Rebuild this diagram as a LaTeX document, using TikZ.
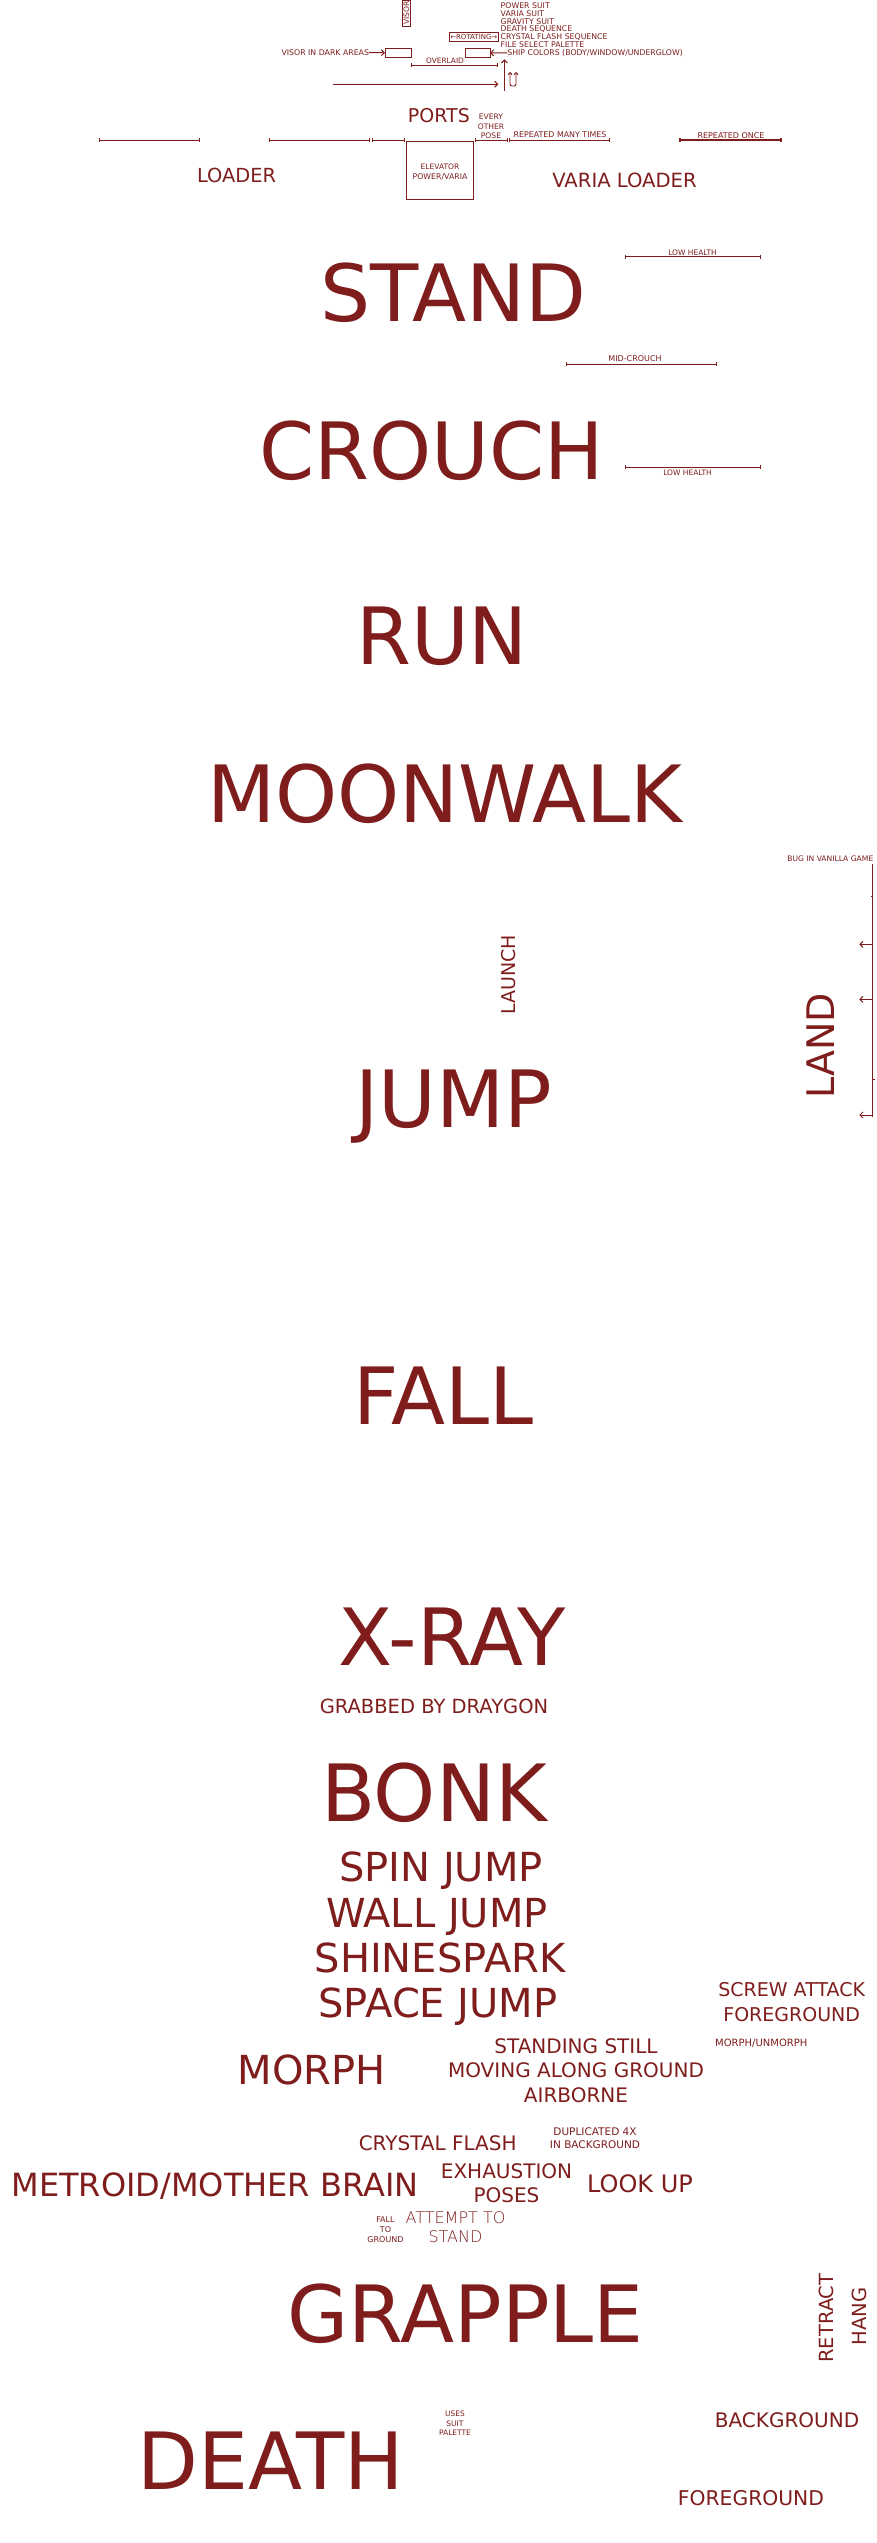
\documentclass[tikz,border=0pt]{standalone}
\usepackage{fontspec}
\usepackage{graphicx}
\setmainfont{DejaVu Sans}
\newfontfamily\thinfont{DejaVu Sans ExtraLight}
\usetikzlibrary{arrows.meta}
\definecolor{dred}{RGB}{127,29,29}
\newcommand{\fsz}[2]{\fontsize{#1}{#2}\selectfont}
\begin{document}
\begin{tikzpicture}[x=1pt,y=-1pt,
  every node/.style={inner sep=0pt,outer sep=0pt,text=dred},
  big/.style={anchor=base,font=\fsz{79}{90}},
  mid/.style={anchor=base,font=\fsz{40}{46}},
  pix/.style={anchor=base,font=\fsz{7.8}{7.67}},
  ln/.style={draw=dred,line width=1pt},
  barline/.style={ln,{Bar[width=4pt]}-{Bar[width=4pt]}},
  arr/.style={ln,-{Straight Barb[length=3pt,width=6pt]}},
  tbox/.style={draw=dred,line width=1pt}
]
\fill[white] (0,0) rectangle (876,2543);
\useasboundingbox (0,0) rectangle (876,2543);

% ---------- top cluster ----------
\node[tbox,rotate=90,font=\fsz{7.5}{8},inner sep=1pt,minimum width=26pt] (visor) at (406.5,13) {VISOR};
\node[anchor=west,align=left,font=\fsz{7.8}{7.67}] (suits) at (500.7,25.2)
  {POWER SUIT\\VARIA SUIT\\GRAVITY SUIT\\DEATH SEQUENCE\\CRYSTAL FLASH SEQUENCE\\FILE SELECT PALETTE};
\node[tbox,font=\fsz{7}{8},inner sep=1pt,minimum width=49pt,minimum height=9pt] (rot) at (473.8,36.8) {←ROTATING→};
\node[tbox,minimum width=26pt,minimum height=9pt] (vdbox) at (398,52.8) {};
\node[tbox,minimum width=25pt,minimum height=9pt] (shipbox) at (477.5,52.8) {};
\node[pix,anchor=base east] (vdtext) at (369,55.3) {VISOR IN DARK AREAS};
\node[pix,anchor=base west] (ship) at (507.3,55.3) {SHIP COLORS (BODY/WINDOW/UNDERGLOW)};
\draw[arr] (vdtext.east) -- (vdbox.west);
\draw[arr] (ship.west) -- (shipbox.east);
\node[pix,font=\fsz{7.4}{8}] (overlaid) at (445,63.7) {OVERLAID};
\coordinate (ov1) at (411.3,65); \coordinate (ov2) at (498.3,65);
\draw[barline] (ov1) -- (ov2);
\coordinate (la1) at (332.7,84.3); \coordinate (la2) at (498.3,84.3);
\draw[arr] (la1) -- (la2);
\coordinate (va1) at (504.3,90.7); \coordinate (va2) at (504.3,59.3);
\draw[arr] (va1) -- (va2);
\coordinate (du1) at (510,72); \coordinate (du2) at (516,72);
\draw[draw=dred,line width=0.9pt,rounded corners=2pt,{Straight Barb[length=2pt,width=4pt]}-{Straight Barb[length=2pt,width=4pt]}] (du1) -- (510,86) -- (516,86) -- (du2);

% ---------- ports row ----------
\node[anchor=base,font=\fsz{19}{22}] (ports) at (438.9,122.7) {PORTS};
\node[anchor=base,font=\fsz{7.6}{9}] (every) at (491,119.3) {EVERY};
\node[anchor=base,font=\fsz{7.6}{9}] (other) at (491,129) {OTHER};
\node[anchor=base,font=\fsz{7.6}{9}] (pose) at (491,138.7) {POSE};
\node[tbox,minimum width=67.4pt,minimum height=57.6pt] (elev) at (440,170.5) {};
\node[anchor=base,font=\fsz{7.5}{9}] (elev1) at (440,169.3) {ELEVATOR};
\node[anchor=base,font=\fsz{7.8}{9}] (elev2) at (440,179) {POWER/VARIA};
\foreach \a/\b/\n in {98.5/200/r1,269/370/r2,371.7/405.4/r3,474.6/507.8/r4,509/610/r5}{
  \coordinate (\n a) at (\a,140.3); \coordinate (\n b) at (\b,140.3);
  \draw[barline] (\n a) -- (\n b);
}
\coordinate (r6a) at (679,140.3); \coordinate (r6b) at (781.5,140.3);
\draw[barline,line width=1.8pt] (r6a) -- (r6b);
\node[pix,font=\fsz{7.9}{8}] (rmany) at (560,137.7) {REPEATED MANY TIMES};
\node[pix,font=\fsz{8}{8}] (ronce) at (731,138.3) {REPEATED ONCE};
\node[anchor=base,font=\fsz{19.4}{22}] (loader) at (236.5,182.7) {LOADER};
\node[anchor=base,font=\fsz{19.6}{22}] (varia) at (624.5,187.3) {VARIA LOADER};

% ---------- health lines ----------
\node[pix,font=\fsz{7.5}{8}] (lh1) at (692.5,255) {LOW HEALTH};
\coordinate (lh1a) at (625,256.5); \coordinate (lh1b) at (760.7,256.5);
\draw[barline] (lh1a) -- (lh1b);
\node[pix,font=\fsz{8}{8}] (midc) at (635,361) {MID-CROUCH};
\coordinate (mca) at (566,364); \coordinate (mcb) at (716.7,364);
\draw[barline] (mca) -- (mcb);
\node[pix,font=\fsz{7.5}{8}] (lh2) at (687.5,475.5) {LOW HEALTH};
\coordinate (lh2a) at (625,467); \coordinate (lh2b) at (760.7,467);
\draw[barline] (lh2a) -- (lh2b);

% ---------- big words ----------
\node[big] (stand) at (453.4,321) {STAND};
\node[big] (crouch) at (431.5,479) {CROUCH};
\node[big] (run) at (442,664) {RUN};
\node[big] (moonwalk) at (445,822) {MOONWALK};
\node[big] (jump) at (454,1127) {JUMP};
\node[big] (fall) at (443.6,1424) {FALL};
\node[big] (xray) at (452,1665) {X-RAY};
\node[big] (bonk) at (434,1821) {BONK};
\node[big] (grapple) at (465.5,2342) {GRAPPLE};
\node[big] (death) at (271,2489) {DEATH};

% ---------- launch / land ----------
\node[rotate=90,font=\fsz{19}{22}] (launch) at (508.3,975) {LAUNCH};
\node[rotate=90,font=\fsz{38}{44}] (land) at (820.3,1045.7) {LAND};
\node[pix,anchor=base east,font=\fsz{7.6}{8}] (bug) at (873.3,861.7) {BUG IN VANILLA GAME};
\coordinate (bt) at (872.7,864); \coordinate (bb) at (872.7,1117);
\draw[ln] (bt) -- (bb);
\foreach \yy/\n in {944.3/la,999.3/lb,1115/lc}{
  \coordinate (\n1) at (872.7,\yy); \coordinate (\n2) at (859.3,\yy);
  \draw[arr] (\n1) -- (\n2);
}
\coordinate (tk1) at (870.5,896.7); \draw[ln] (tk1) -- (bt |- tk1);
\coordinate (tk2) at (874.8,1079); \draw[ln] (tk2) -- (bt |- tk2);

% ---------- lower labels ----------
\node[anchor=base,font=\fsz{19.5}{22}] (grabbed) at (434,1713.4) {GRABBED BY DRAYGON};
\node[mid] (spin) at (441,1881.6) {SPIN JUMP};
\node[mid] (wall) at (437,1927) {WALL JUMP};
\node[mid] (shine) at (440,1972.6) {SHINESPARK};
\node[mid] (space) at (438,2017.6) {SPACE JUMP};
\node[align=center,font=\fsz{19}{25}] (screw) at (791.7,2002.5) {SCREW ATTACK\\FOREGROUND};
\node[mid] (morph) at (311.5,2084.6) {MORPH};
\node[align=center,font=\fsz{20}{24.5}] (standing) at (576,2070.5) {STANDING STILL\\MOVING ALONG GROUND\\AIRBORNE};
\node[anchor=base,font=\fsz{10}{12}] (unmorph) at (761.3,2046.7) {MORPH/UNMORPH};
\node[anchor=base,font=\fsz{20}{24}] (crystal) at (437.7,2150) {CRYSTAL FLASH};
\node[align=center,font=\fsz{10.5}{13}] (dup) at (595,2138) {DUPLICATED 4X\\IN BACKGROUND};
\node[align=center,font=\fsz{20}{23.7}] (exh) at (506.5,2182.9) {EXHAUSTION\\POSES};
\node[anchor=base,font=\fsz{24}{28}] (look) at (640,2192.7) {LOOK UP};
\node[anchor=base,font=\fsz{32}{36}] (metroid) at (215,2196) {METROID/MOTHER BRAIN};
\node[align=center,font=\thinfont\fsz{16}{19}] (attempt) at (455.5,2227.5) {ATTEMPT TO\\STAND};
\node[align=center,font=\fsz{8}{10}] (fallg) at (385.5,2229.7) {FALL\\TO\\GROUND};
\node[rotate=90,font=\fsz{19.5}{22}] (retract) at (826.3,2318) {RETRACT};
\node[rotate=90,font=\fsz{19.5}{22}] (hang) at (859.2,2316.7) {HANG};
\node[align=center,font=\fsz{7.5}{9.7}] (uses) at (455,2423.3) {USES\\SUIT\\PALETTE};
\node[anchor=base,font=\fsz{20}{24}] (bg) at (787,2427.3) {BACKGROUND};
\node[anchor=base,font=\fsz{20.3}{24}] (fg) at (751,2505.3) {FOREGROUND};
\end{tikzpicture}
\end{document}
